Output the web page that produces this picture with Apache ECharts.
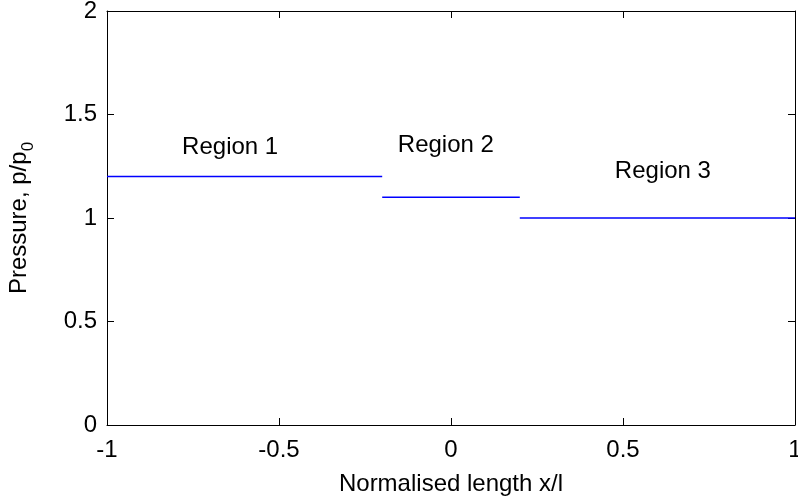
<!DOCTYPE html>
<html lang="en">
<head>
    <meta charset="UTF-8">
    <title>Pressure regions</title>
    <script src="https://cdn.jsdelivr.net/npm/echarts@6/dist/echarts.min.js"></script>
    <style>
        html, body { margin: 0; padding: 0; background: #fff; }
        #main { width: 798px; height: 504px; }
    </style>
</head>
<body>
<div id="main"></div>
<script type="text/javascript">
    // region data: x extent and pressure level of each step
    var regionNames = ['Region 1', 'Region 2', 'Region 3'];
    var regionStart = [-1, -0.2, 0.2];
    var regionEnd = [-0.2, 0.2, 1];
    var regionPressure = [1.2, 1.1, 1.0];
    // where the region text sits (data coords)
    var labelX = [-0.642, -0.015, 0.616];
    var labelY = [1.343, 1.353, 1.227];

    var FONT = 'Liberation Sans, Arial, sans-serif';
    var FS = 24;

    var myChart = echarts.init(document.getElementById('main'));

    var series = [];
    for (var i = 0; i < regionNames.length; i++) {
        series.push({
            name: regionNames[i],
            type: 'line',
            symbol: 'none',
            silent: true,
            lineStyle: { color: '#0000ff', width: 1.5 },
            data: [[regionStart[i], regionPressure[i]], [regionEnd[i], regionPressure[i]]]
        });
    }
    series.push({
        type: 'scatter',
        symbolSize: 0,
        silent: true,
        itemStyle: { opacity: 1 },
        label: {
            show: true,
            position: 'inside',
            color: '#000',
            fontFamily: FONT,
            fontSize: FS,
            formatter: function (p) { return p.name; }
        },
        data: regionNames.map(function (n, i) {
            return { name: n, value: [labelX[i], labelY[i]] };
        })
    });

    var axisLine = { show: true, onZero: false, lineStyle: { color: '#000', width: 1 } };
    var tick = { show: true, inside: true, length: 7, lineStyle: { color: '#000' } };

    var option = {
        animation: false,
        grid: { left: 107, right: 3, top: 11, bottom: 79, outerBoundsMode: 'none', containLabel: false },
        xAxis: [{
            type: 'value', min: -1, max: 1, interval: 0.5,
            axisLine: axisLine, axisTick: tick, splitLine: { show: false },
            axisLabel: { color: '#000', fontFamily: FONT, fontSize: FS, margin: 13 },
            name: 'Normalised length x/l', nameLocation: 'middle', nameGap: 47,
            nameTextStyle: { color: '#000', fontFamily: FONT, fontSize: FS }
        }, {
            type: 'value', min: -1, max: 1, interval: 0.5, position: 'top',
            axisLine: axisLine, axisTick: tick, splitLine: { show: false },
            axisLabel: { show: false }
        }],
        yAxis: [{
            type: 'value', min: 0, max: 2, interval: 0.5,
            axisLine: axisLine, axisTick: tick, splitLine: { show: false },
            axisLabel: { color: '#000', fontFamily: FONT, fontSize: FS, margin: 10 },
            name: '{a|Pressure, p/p}{s|0}', nameLocation: 'middle', nameGap: 76,
            nameTextStyle: {
                color: '#000', fontFamily: FONT, fontSize: FS,
                rich: {
                    a: { fontFamily: FONT, fontSize: FS, color: '#000', lineHeight: 30, verticalAlign: 'bottom' },
                    s: { fontFamily: FONT, fontSize: 17, color: '#000', lineHeight: 30, verticalAlign: 'bottom', padding: [0, 0, -6, 0] }
                }
            }
        }, {
            type: 'value', min: 0, max: 2, interval: 0.5, position: 'right',
            axisLine: axisLine, axisTick: tick, splitLine: { show: false },
            axisLabel: { show: false }
        }],
        series: series
    };
    myChart.setOption(option);
</script>
</body>
</html>
